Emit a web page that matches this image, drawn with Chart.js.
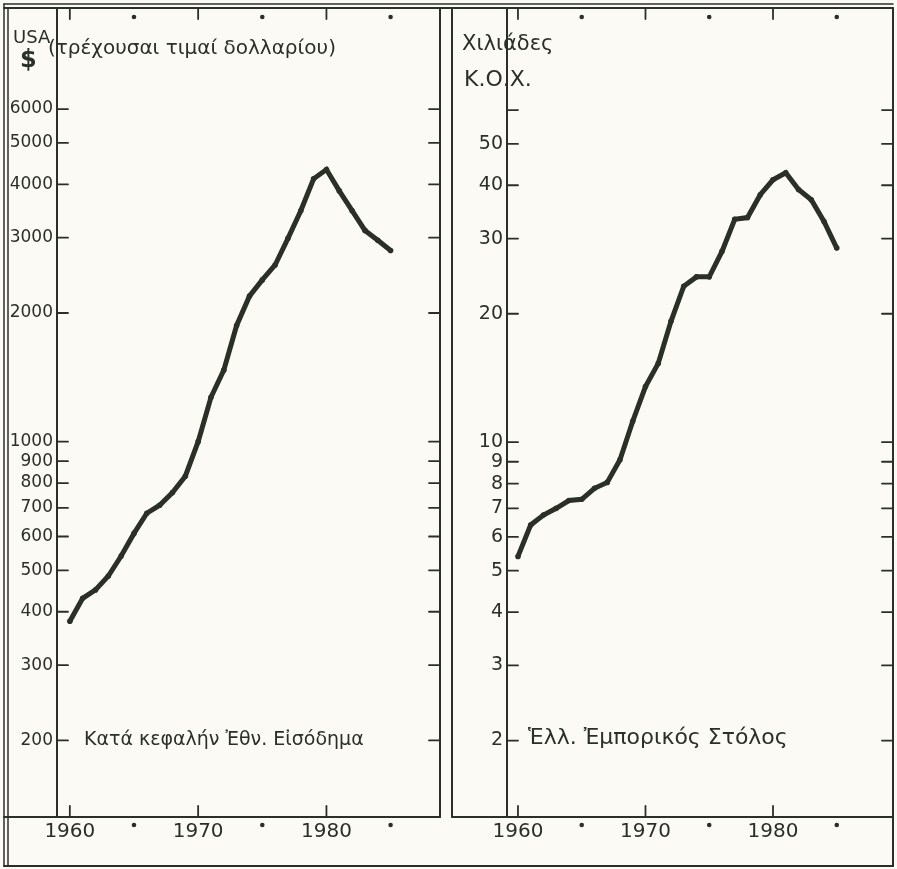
<!DOCTYPE html>
<html>
<head>
<meta charset="utf-8">
<script src="https://cdn.jsdelivr.net/npm/chart.js@4.4.1/dist/chart.umd.min.js"></script>
<style>
  body { margin: 0; background: #fbfaf4; }
  #wrap { position: relative; width: 897px; height: 869px; overflow: hidden; font-family: "DejaVu Sans", sans-serif; color: #2b3027; }
  canvas { position: absolute; top: 0; }
  #incomeChart { left: 0; }
  #fleetChart { left: 448px; }
  .txt { position: absolute; line-height: 1; white-space: nowrap; }
</style>
</head>
<body>
<div id="wrap">
  <canvas id="incomeChart" width="448" height="869"></canvas>
  <canvas id="fleetChart" width="449" height="869"></canvas>
  <div class="txt" style="left:13px;top:28px;font-size:18px;">USA</div>
  <div class="txt" style="left:20px;top:47px;font-size:24px;font-weight:bold;">$</div>
  <div class="txt" style="left:48px;top:37px;font-size:20px;">(τρέχουσαι τιμαί δολλαρίου)</div>
  <div class="txt" style="left:462px;top:33px;font-size:21px;">Χιλιάδες</div>
  <div class="txt" style="left:464px;top:68px;font-size:22px;">Κ.Ο.Χ.</div>
  <div class="txt" style="left:84px;top:729px;font-size:19px;">Κατά κεφαλήν Ἐθν. Εἰσόδημα</div>
  <div class="txt" style="left:528px;top:726px;font-size:22px;">Ἑλλ. Ἐμπορικός Στόλος</div>
</div>
<script>
// data
var years = [1960, 1961, 1962, 1963, 1964, 1965, 1966, 1967, 1968, 1969, 1970, 1971, 1972,
             1973, 1974, 1975, 1976, 1977, 1978, 1979, 1980, 1981, 1982, 1983, 1984, 1985];
var incomeValues = [380, 430, 450, 485, 540, 610, 680, 710, 760, 830, 1000, 1270, 1470,
                    1870, 2190, 2390, 2590, 2990, 3470, 4120, 4330, 3860, 3470, 3120, 2960, 2800];
var fleetValues = [5.4, 6.4, 6.75, 7.0, 7.3, 7.35, 7.8, 8.05, 9.1, 11.2, 13.5, 15.3, 19.2,
                   23.2, 24.4, 24.4, 28.0, 33.3, 33.6, 38.0, 41.2, 42.8, 39.1, 37.0, 32.9, 28.5];
var incomeTicks = [200, 300, 400, 500, 600, 700, 800, 900, 1000, 2000, 3000, 4000, 5000, 6000];
var fleetTicks = [2, 3, 4, 5, 6, 7, 8, 9, 10, 20, 30, 40, 50, 60];
var unlabeledFleetTicks = [60];
var yearTicks = [1960, 1970, 1980];
var dotYears = [1965, 1975, 1985];

var ink = '#2b3027';
var paper = '#fbfaf4';

function points(values) {
    return years.map(function(y, i) { return { x: y, y: values[i] }; });
}

// draws the hand-ruled frame, tick marks and dots
var sketchFrame = {
    id: 'sketchFrame',
    afterDraw: function(chart, args, opts) {
        var ctx = chart.ctx;
        var a = chart.chartArea;
        var xs = chart.scales.x;
        var ys = chart.scales.y;

        function line(x1, y1, x2, y2, w) {
            ctx.lineWidth = w || 2;
            ctx.beginPath();
            ctx.moveTo(x1, y1);
            ctx.lineTo(x2, y2);
            ctx.stroke();
        }
        function dot(x, y) {
            ctx.beginPath();
            ctx.arc(x, y, 2.3, 0, Math.PI * 2);
            ctx.fill();
        }

        ctx.save();
        ctx.strokeStyle = ink;
        ctx.fillStyle = ink;
        ctx.lineCap = 'round';

        // top double rule
        line(opts.boxLeft, 4, opts.boxRight, 4, 1.5);
        line(opts.boxLeft, 8, opts.boxRight, 8, 2);
        if (opts.outerLeft) {
            line(4, 4, 4, 866, 1.5);
            line(8, 8, 8, 866, 1.5);
        } else {
            line(opts.panelLeft, 8, opts.panelLeft, a.bottom, 2);
        }
        // y axis, right border, x axis
        line(a.left, 8, a.left, a.bottom, 2);
        line(a.right, 8, a.right, opts.outerRight ? 866 : a.bottom, 2);
        line(opts.panelLeft, a.bottom, a.right, a.bottom, 2);
        // bottom box
        line(opts.boxLeft, 866, opts.boxRight, 866, 2);

        // y ticks on both sides
        ys.ticks.forEach(function(t) {
            var py = ys.getPixelForValue(t.value);
            line(a.left, py, a.left + 11, py, 1.8);
            line(a.right - 11, py, a.right, py, 1.8);
        });
        // year ticks and half-decade dots, top and bottom
        yearTicks.forEach(function(yr) {
            var px = xs.getPixelForValue(yr);
            line(px, 8, px, 19, 1.8);
            line(px, a.bottom - 11, px, a.bottom, 1.8);
        });
        dotYears.forEach(function(yr) {
            var px = xs.getPixelForValue(yr);
            dot(px, 17);
            dot(px, a.bottom + 8);
        });
        ctx.restore();
    }
};

function makeChart(canvasId, values, yMin, yMax, yTicks, xMin, xMax, axisWidth, rightPad, frame, labelFor, ySize) {
    return new Chart(document.getElementById(canvasId), {
        type: 'line',
        data: {
            datasets: [{
                data: points(values),
                borderColor: ink,
                backgroundColor: ink,
                borderWidth: 5,
                pointRadius: 2.8,
                pointBackgroundColor: ink,
                pointBorderWidth: 0,
                tension: 0
            }, {
                data: points(values),
                borderColor: 'rgba(251,250,244,0.8)',
                borderWidth: 1,
                borderDash: [9, 15],
                pointRadius: 0,
                tension: 0
            }]
        },
        options: {
            responsive: false,
            animation: false,
            layout: { padding: { left: 0, right: rightPad, top: 8, bottom: 0 } },
            plugins: {
                legend: { display: false },
                tooltip: { enabled: false },
                sketchFrame: frame
            },
            scales: {
                x: {
                    type: 'linear',
                    min: xMin,
                    max: xMax,
                    grid: { display: false, drawTicks: false },
                    border: { display: false },
                    afterFit: function(scale) { scale.height = 52; },
                    afterBuildTicks: function(scale) {
                        scale.ticks = yearTicks.map(function(v) { return { value: v }; });
                    },
                    ticks: {
                        autoSkip: false,
                        maxRotation: 0,
                        padding: 3,
                        color: ink,
                        font: { family: 'DejaVu Sans', size: 20 },
                        callback: function(value) { return String(value); }
                    }
                },
                y: {
                    type: 'logarithmic',
                    min: yMin,
                    max: yMax,
                    grid: { display: false, drawTicks: false },
                    border: { display: false },
                    afterFit: function(scale) { scale.width = axisWidth; },
                    afterBuildTicks: function(scale) {
                        scale.ticks = yTicks.map(function(v) { return { value: v }; });
                    },
                    ticks: {
                        autoSkip: false,
                        padding: 4,
                        color: ink,
                        font: { family: 'DejaVu Sans', size: ySize },
                        callback: labelFor
                    }
                }
            }
        },
        plugins: [sketchFrame]
    });
}

makeChart('incomeChart', incomeValues, 132.4, 10000, incomeTicks, 1959, 1988.85, 57, 8,
    { outerLeft: true, outerRight: false, panelLeft: 4, boxLeft: 4, boxRight: 448 },
    function(value) { return String(value); }, 17);

makeChart('fleetChart', fleetValues, 1.324, 100, fleetTicks, 1959.14, 1989.41, 59, 4,
    { outerLeft: false, outerRight: true, panelLeft: 4, boxLeft: 0, boxRight: 445 },
    function(value) { return unlabeledFleetTicks.indexOf(value) >= 0 ? '' : String(value); }, 19);
</script>
</body>
</html>
